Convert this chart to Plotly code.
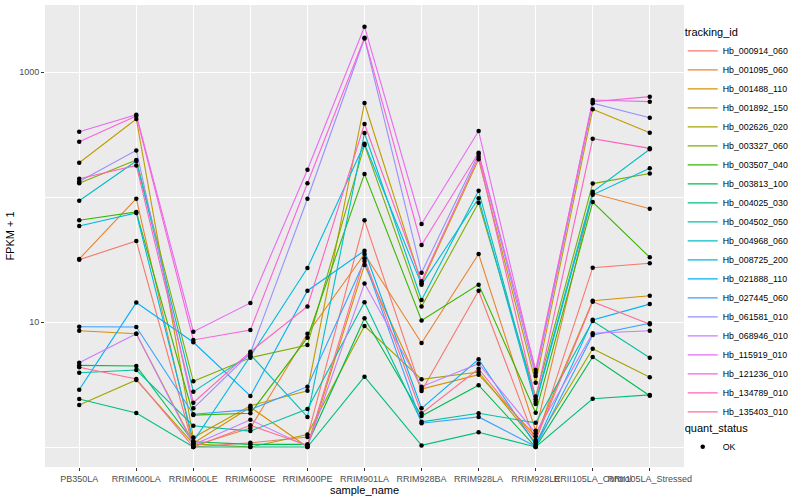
import plotly.graph_objects as go

samples = ["PB350LA", "RRIM600LA", "RRIM600LE", "RRIM600SE", "RRIM600PE", "RRIM901LA",
           "RRIM928BA", "RRIM928LA", "RRIM928LE", "RRII105LA_Control", "RRII105LA_Stressed"]

# FPKM + 1 per gene, one value per sample
hb_000914_060 = [31.5, 44.5, 1.0, 1.08, 1.20, 65.1, 2.81, 17.8, 1.10, 27.2, 29.5]
hb_001095_060 = [31.9, 96.9, 1.02, 1.42, 8.06, 35.0, 6.79, 35.0, 1.35, 107, 80.6]
hb_001488_110 = [8.52, 8.06, 1.07, 2.08, 1.0, 28.6, 2.91, 3.79, 1.22, 14.8, 16.2]
hb_001892_150 = [188, 421, 1.19, 2.14, 2.82, 565, 20.4, 200, 3.27, 503, 327]
hb_002626_020 = [2.17, 3.44, 1.06, 1.0, 1.26, 9.29, 3.48, 3.98, 1.08, 6.11, 3.61]
hb_003327_060 = [129, 198, 3.35, 5.18, 6.55, 261, 13.3, 90.0, 2.53, 128, 154]
hb_003507_040 = [65.1, 75.9, 1.80, 1.86, 7.49, 153, 10.3, 19.9, 1.88, 91.2, 32.9]
hb_003813_100 = [4.50, 4.45, 1.10, 1.05, 1.05, 10.7, 1.77, 3.12, 1.0, 5.25, 2.57]
hb_004025_030 = [2.42, 1.87, 1.0, 1.0, 1.0, 3.65, 1.03, 1.31, 1.0, 2.43, 2.61]
hb_004502_050 = [3.93, 4.13, 1.48, 1.34, 2.01, 14.4, 1.59, 1.86, 1.56, 10.2, 5.18]
hb_004968_060 = [93.4, 194, 2.77, 5.48, 1.74, 325, 15.0, 112, 2.30, 110, 241]
hb_008725_200 = [58.6, 74.5, 1.11, 5.32, 27.0, 267, 19.9, 97.6, 2.21, 104, 170]
hb_021888_110 = [2.87, 14.3, 6.88, 2.56, 17.8, 37.2, 2.04, 5.03, 1.04, 10.4, 13.9]
hb_027445_060 = [9.17, 9.12, 1.83, 1.99, 3.04, 30.8, 1.55, 1.74, 1.01, 7.87, 9.76]
hb_061581_010 = [133, 236, 2.04, 5.65, 96.9, 1854, 24.8, 221, 3.70, 562, 431]
hb_068946_010 = [4.73, 8.06, 1.04, 1.65, 1.01, 20.3, 3.04, 4.64, 1.29, 8.12, 8.52]
hb_115919_010 = [333, 455, 8.36, 14.2, 165, 2303, 60.8, 337, 3.93, 597, 579]
hb_121236_010 = [277, 445, 7.18, 8.63, 129, 1881, 41.3, 226, 4.13, 579, 635]
hb_134789_010 = [140, 179, 2.26, 5.79, 13.3, 384, 21.2, 210, 2.41, 293, 245]
hb_135403_010 = [4.34, 3.50, 1.0, 1.49, 1.03, 32.3, 1.86, 4.23, 1.14, 14.5, 9.58]

tracking_ids = ["Hb_000914_060", "Hb_001095_060", "Hb_001488_110", "Hb_001892_150",
                "Hb_002626_020", "Hb_003327_060", "Hb_003507_040", "Hb_003813_100",
                "Hb_004025_030", "Hb_004502_050", "Hb_004968_060", "Hb_008725_200",
                "Hb_021888_110", "Hb_027445_060", "Hb_061581_010", "Hb_068946_010",
                "Hb_115919_010", "Hb_121236_010", "Hb_134789_010", "Hb_135403_010"]

series = [hb_000914_060, hb_001095_060, hb_001488_110, hb_001892_150, hb_002626_020,
          hb_003327_060, hb_003507_040, hb_003813_100, hb_004025_030, hb_004502_050,
          hb_004968_060, hb_008725_200, hb_021888_110, hb_027445_060, hb_061581_010,
          hb_068946_010, hb_115919_010, hb_121236_010, hb_134789_010, hb_135403_010]

colors = ["#F8766D", "#EA8331", "#D89000", "#C09B00", "#A3A500", "#7CAE00", "#39B600",
          "#00BB4E", "#00BF7D", "#00C1A3", "#00BFC4", "#00BAE0", "#00B0F6", "#35A2FF",
          "#9590FF", "#C77CFF", "#E76BF3", "#FA62DB", "#FF62BC", "#FF6C91"]

FONT = "Liberation Sans, Arial, sans-serif"

fig = go.Figure()
for name, vals, col in zip(tracking_ids, series, colors):
    fig.add_trace(go.Scatter(x=samples, y=vals, mode="lines", name=name,
                             line=dict(color=col, width=1.1), legend="legend"))

all_x = [s for vals in series for s in samples]
all_y = [v for vals in series for v in vals]
fig.add_trace(go.Scatter(x=all_x, y=all_y, mode="markers", name="OK",
                         marker=dict(color="black", size=4.5, symbol="circle"),
                         legend="legend2"))

fig.update_layout(
    width=800, height=500,
    margin=dict(l=45, r=116, t=5, b=33),
    paper_bgcolor="white", plot_bgcolor="#EBEBEB",
    font=dict(family=FONT, color="black"),
    showlegend=True,
    legend=dict(title=dict(text="tracking_id", font=dict(size=11)),
                font=dict(size=8.8), x=0.998, xanchor="left", y=0.963, yanchor="top",
                itemwidth=30, bgcolor="rgba(0,0,0,0)"),
    legend2=dict(title=dict(text="quant_status", font=dict(size=11)),
                 font=dict(size=8.8), x=0.998, xanchor="left", y=0.106, yanchor="top",
                 itemwidth=30, bgcolor="rgba(0,0,0,0)"),
    xaxis=dict(type="category", categoryorder="array", categoryarray=samples,
               range=[-0.6, 10.6], showgrid=True, gridcolor="white", gridwidth=1.2,
               zeroline=False, showline=False, ticks="outside", ticklen=3,
               tickcolor="#333333", tickangle=0,
               tickfont=dict(size=9, color="#4D4D4D"),
               title=dict(text="sample_name", font=dict(size=11), standoff=2)),
    yaxis=dict(type="log", range=[-0.16, 3.536], tickvals=[10, 1000],
               ticktext=["10", "1000"], showgrid=True, gridcolor="white", gridwidth=1.2,
               zeroline=False, showline=False, ticks="outside", ticklen=3,
               tickcolor="#333333", tickfont=dict(size=9, color="#4D4D4D"),
               minor=dict(tickvals=[1, 100], showgrid=True, gridcolor="white",
                          gridwidth=0.7, ticks=""),
               title=dict(text="FPKM + 1", font=dict(size=11), standoff=2)),
)

fig.write_html("out.html", config={"displayModeBar": False},
               post_script="document.body.style.margin='0';document.body.style.overflow='hidden';")
